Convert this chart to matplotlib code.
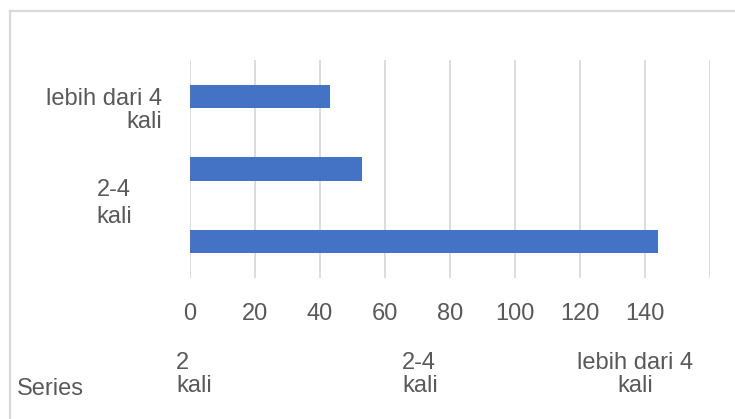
import matplotlib.pyplot as plt
from matplotlib.lines import Line2D

plt.rcParams['font.family'] = ['Liberation Sans', 'DejaVu Sans']

# frequency categories (bottom to top) and counts
categories = ['2\nkali', '2-4\nkali', 'lebih dari 4\nkali']
counts = [144, 53, 43]
xticks = [0, 20, 40, 60, 80, 100, 120, 140, 160]
xticklabels = ['0', '20', '40', '60', '80', '100', '120', '140', '']

BAR = '#4472C4'
TXT = '#595959'
GRID = '#d9d9d9'
FS = 17

W, H = 735, 419
fig = plt.figure(figsize=(W / 100, H / 100), dpi=100)

def fx(px):
    return px / W

def fy(py):
    return 1 - py / H

# chart area border (only top and left edges show)
fig.add_artist(Line2D([fx(10), fx(10)], [fy(11), 0], color=GRID, lw=1.6))
fig.add_artist(Line2D([fx(10), 1], [fy(11), fy(11)], color=GRID, lw=1.6))

ax = fig.add_axes([fx(190), fy(278), fx(710) - fx(190), fy(60) - fy(278)])
ypos = range(len(categories))
ax.barh(ypos, counts, height=0.32, color=BAR, zorder=3)

ax.set_xlim(0, 160)
ax.set_ylim(-0.5, 2.5)
ax.set_xticks(xticks)
ax.set_xticklabels(xticklabels, fontsize=FS, color=TXT)
ax.set_yticks([])
ax.tick_params(axis='x', length=0, pad=18)
ax.grid(axis='x', color=GRID, lw=1.3, zorder=0)
for s in ax.spines.values():
    s.set_visible(False)

# category labels on the left
ax.text(-0.054, 1.81, categories[2], transform=ax.get_yaxis_transform(),
        ha='right', va='center', multialignment='right',
        fontsize=FS, color=TXT, linespacing=1.05)
ax.text(-0.145, 0.53, categories[1], transform=ax.get_yaxis_transform(),
        ha='center', va='center', multialignment='left',
        fontsize=FS, color=TXT, linespacing=1.3)

# series row underneath
fig.text(fx(17), fy(395), 'Series', ha='left', va='baseline', fontsize=FS, color=TXT)
fig.text(fx(176), fy(352), categories[0], ha='left', va='top',
         fontsize=FS, color=TXT, linespacing=1.05)
fig.text(fx(402), fy(352), categories[1], ha='left', va='top',
         fontsize=FS, color=TXT, linespacing=1.05)
fig.text(fx(635), fy(352), categories[2], ha='center', va='top',
         multialignment='center', fontsize=FS, color=TXT, linespacing=1.05)

fig.savefig('out.png', dpi=100)
